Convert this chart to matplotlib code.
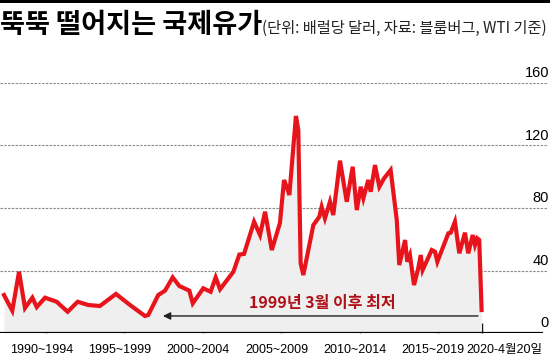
import matplotlib
matplotlib.use("Agg")
import matplotlib.pyplot as plt
from matplotlib.patches import Rectangle
import matplotlib.transforms as mtransforms

# ---- data (WTI, USD per barrel) ----
years = [1989.82, 1990.35, 1990.78, 1991.16, 1991.63, 1991.91, 1992.44, 1993.18,
         1993.88, 1994.52, 1995.20, 1995.94, 1996.96, 1997.86, 1998.81, 1999.02,
         1999.66, 2000.09, 2000.58, 2001.00, 2001.64, 2001.86, 2002.53, 2003.00,
         2003.32, 2003.60, 2004.45, 2004.83, 2005.13, 2005.77, 2006.15, 2006.47,
         2006.90, 2007.42, 2007.68, 2007.85, 2008.02, 2008.44, 2008.59, 2008.74,
         2008.91, 2009.55, 2009.93, 2010.08, 2010.29, 2010.61, 2010.82, 2011.25,
         2011.68, 2012.06, 2012.32, 2012.57, 2012.74, 2013.05, 2013.21, 2013.48,
         2013.76, 2014.06, 2014.48, 2014.87, 2015.03, 2015.40, 2015.54, 2015.71,
         2015.97, 2016.24, 2016.40, 2016.52, 2017.10, 2017.31, 2017.46, 2018.16,
         2018.31, 2018.58, 2018.86, 2019.22, 2019.43, 2019.71, 2019.86, 2020.00,
         2020.13, 2020.28]
prices = [24.3, 14.3, 39.2, 16.0, 22.6, 16.6, 22.6, 20.0,
          13.6, 20.0, 17.9, 17.3, 25.0, 17.9, 10.9, 11.5,
          24.3, 27.1, 35.6, 30.1, 27.1, 19.0, 28.6, 26.4,
          35.6, 28.0, 39.2, 50.2, 50.6, 71.2, 62.7, 77.6,
          53.1, 70.4, 97.9, 93.6, 88.3, 138.9, 129.9, 44.6,
          37.1, 69.1, 74.4, 80.8, 73.4, 84.0, 75.5, 110.3,
          84.0, 106.4, 78.7, 93.6, 86.2, 97.9, 90.4, 107.5,
          93.6, 99.0, 104.3, 72.3, 43.5, 59.5, 45.6, 49.9,
          30.7, 41.4, 49.9, 40.3, 53.1, 52.0, 45.6, 63.8,
          64.2, 71.2, 51.0, 64.2, 51.0, 62.7, 56.3, 60.6,
          59.5, 14.7]

xtick_pos = [1992.5, 1997.5, 2002.5, 2007.5, 2012.5, 2017.5, 2020.3]
xtick_labels = ["1990~1994", "1995~1999", "2000~2004", "2005~2009",
                "2010~2014", "2015~2019", "2020-4월20일"]
ytick_vals = [0, 40, 80, 120, 160]
ytick_labels = ["0", "40", "80", "120", "160"]

title = "뚝뚝 떨어지는 국제유가"
subtitle = "(단위: 배럴당 달러, 자료: 블룸버그, WTI 기준)"
note = "1999년 3월 이후 최저"
note_from = 2020.05
note_to = 1999.96

# ---- fonts ----
NUM = ["Liberation Sans", "Noto Sans CJK KR"]
KR = ["Noto Sans CJK KR", "DejaVu Sans"]

RED = "#e8141b"
DARKRED = "#b01018"

W, H = 550, 361
fig = plt.figure(figsize=(W / 100, H / 100), dpi=100)
fig.patch.set_facecolor("white")

# top black rule
fig.patches.append(Rectangle((0, 1 - 3 / H), 1, 3 / H, transform=fig.transFigure,
                             facecolor="black", edgecolor="none"))

ax = fig.add_axes([0, (H - 333) / H, 1, 250 / H])
x0 = 1992.5 - 46 / 15.68
x1 = 1992.5 + (W - 46) / 15.68
ax.set_xlim(x0, x1)
ax.set_ylim(0, 160)
for s in ax.spines.values():
    s.set_visible(False)

# gridlines
for v in ytick_vals[1:]:
    ax.axhline(v, xmin=0, xmax=0.995, color="#8a8a8a", lw=0.8,
               linestyle=(0, (2.2, 1.2)), zorder=1)
# baseline
ax.axhline(0, xmin=0, xmax=542 / W, color="black", lw=1.6, zorder=4)

# fill & line
ax.fill_between(years, prices, 0, color="#efefef", zorder=2, lw=0)
ax.plot(years, prices, color=RED, lw=3.0, solid_joinstyle="miter", zorder=5)

# ticks
ax.set_yticks([])
ax.set_xticks(xtick_pos)
ax.set_xticklabels([])
ax.tick_params(axis="x", direction="in", length=7, width=1.0, color="black")

# x labels
tr_x = mtransforms.blended_transform_factory(ax.transData, fig.transFigure)
label_offsets = [-0.3, -0.3, -0.3, -0.3, -0.3, -0.3, 1.4]
for p, lab, off in zip(xtick_pos, xtick_labels, label_offsets):
    ax.text(p + off, 1 - 350 / H, lab, transform=tr_x, ha="center", va="center",
            fontsize=9, family=NUM, color="black")

# y labels (right side, above gridlines)
tr_y = mtransforms.blended_transform_factory(ax.transAxes, ax.transData)
for v, lab in zip(ytick_vals, ytick_labels):
    ax.text(0.998, v + 1.8, lab, transform=tr_y, ha="right", va="bottom",
            fontsize=10.5, family=NUM, color="black")

# arrow + note
ax.annotate("", xy=(note_to, 10.9), xytext=(note_from, 10.9),
            arrowprops=dict(arrowstyle="-|>", color="#222222", lw=1.0,
                            mutation_scale=11, shrinkA=0, shrinkB=0), zorder=6)
ax.text(2010.13, 19.5, note, ha="center", va="center", fontsize=11.5,
        fontweight="bold", family=KR, color=DARKRED, zorder=6)

# title
fig.text(0.0, 1 - 25 / H, title, ha="left", va="center", fontsize=19.6,
         fontweight="heavy", family=KR, color="black")
fig.text(262 / W, 1 - 28 / H, subtitle, ha="left", va="center", fontsize=11,
         family=KR, color="#222222")

fig.savefig("out.png", dpi=100, facecolor="white")
